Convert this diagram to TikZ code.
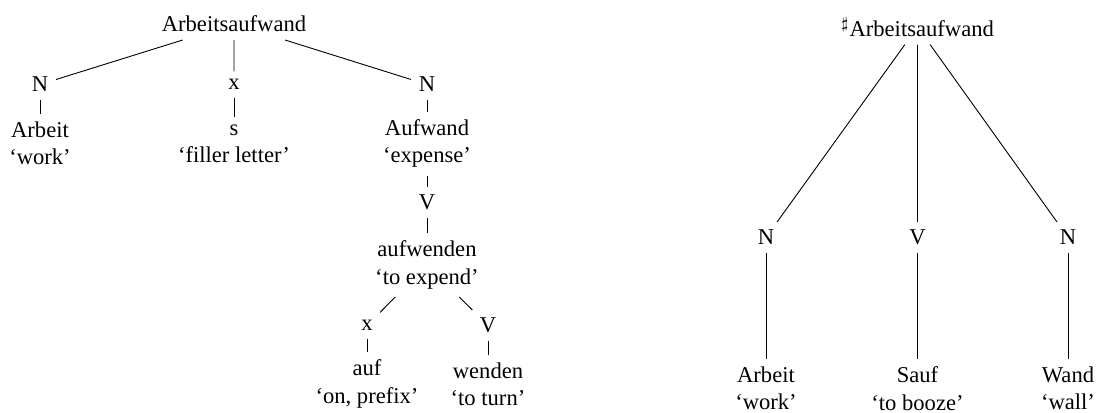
\documentclass[tikz,border=0pt]{standalone}
\usepackage{fontspec}
\setmainfont{Liberation Serif}
\usepackage{tikz}

\begin{document}
\begin{tikzpicture}[x=0.4425pt, y=-0.4425pt, every node/.style={align=center}]
  \useasboundingbox (0,0) rectangle (1097,413);

  % compound reading
  \node (root) at (234,24) {Arbeitsaufwand};
  \node (n1) at (40,84.5) {N};
  \node (x1) at (234,84.5) {x};
  \node (n2) at (427,84.5) {N};
  \node (arb) at (40,143.7) {Arbeit\\`work'};
  \node (fug) at (234,143.7) {s\\`filler letter'};
  \node (aufw) at (427,143.7) {Aufwand\\`expense'};
  \node (v1) at (427,202.4) {V};
  \node (aufwen) at (427,265) {aufwenden\\`to expend'};
  \node (x2) at (367,325.5) {x};
  \node (v2) at (488,325.5) {V};
  \node (auf) at (367,384) {auf\\`on, prefix'};
  \node (wen) at (488,384) {wenden\\`to turn'};

  \draw (root) -- (n1) (root) -- (x1) (root) -- (n2);
  \draw (n1) -- (arb) (x1) -- (fug) (n2) -- (aufw);
  \draw (aufw) -- (v1) (v1) -- (aufwen);
  \draw (aufwen) -- (x2) (aufwen) -- (v2);
  \draw (x2) -- (auf) (v2) -- (wen);

  % odd reading
  \node (root2) at (917.5,27) {$^\sharp$Arbeitsaufwand};
  \node (n3) at (766,237.4) {N};
  \node (v3) at (917.5,237.4) {V};
  \node (n4) at (1068,237.4) {N};
  \node (arb2) at (766,388.7) {Arbeit\\`work'};
  \node (sauf) at (917.5,388.7) {Sauf\\`to booze'};
  \node (wand) at (1068,388.7) {Wand\\`wall'};

  \draw (root2) -- (n3) (root2) -- (v3) (root2) -- (n4);
  \draw (n3) -- (arb2) (v3) -- (sauf) (n4) -- (wand);
\end{tikzpicture}
\end{document}
